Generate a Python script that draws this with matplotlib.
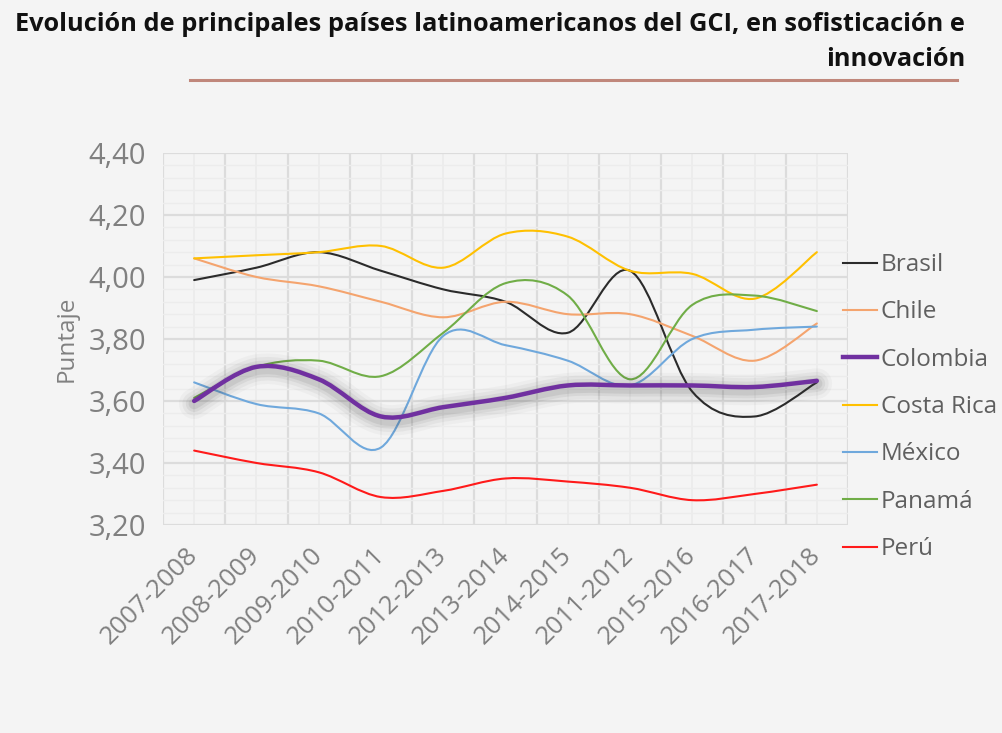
import numpy as np
import matplotlib
matplotlib.use('Agg')
import matplotlib.pyplot as plt
from matplotlib.path import Path
from matplotlib.patches import PathPatch
from matplotlib.lines import Line2D
import matplotlib.patheffects as pe

temporadas = ['2007-2008', '2008-2009', '2009-2010', '2010-2011', '2012-2013',
              '2013-2014', '2014-2015', '2011-2012', '2015-2016', '2016-2017',
              '2017-2018']

brasil = [3.99, 4.03, 4.08, 4.02, 3.96, 3.92, 3.82, 4.02, 3.63, 3.55, 3.66]
chile = [4.06, 4.00, 3.97, 3.92, 3.87, 3.92, 3.88, 3.88, 3.81, 3.73, 3.85]
colombia = [3.60, 3.71, 3.67, 3.55, 3.58, 3.61, 3.65, 3.65, 3.65, 3.645, 3.665]
costa_rica = [4.06, 4.07, 4.08, 4.10, 4.03, 4.14, 4.13, 4.02, 4.01, 3.93, 4.08]
mexico = [3.66, 3.59, 3.56, 3.45, 3.81, 3.78, 3.73, 3.65, 3.80, 3.83, 3.84]
panama = [3.61, 3.71, 3.73, 3.68, 3.82, 3.98, 3.94, 3.67, 3.91, 3.94, 3.89]
peru = [3.44, 3.40, 3.37, 3.29, 3.31, 3.35, 3.34, 3.32, 3.28, 3.30, 3.33]

paises = ['Brasil', 'Chile', 'Colombia', 'Costa Rica', 'México', 'Panamá', 'Perú']
series = [brasil, chile, colombia, costa_rica, mexico, panama, peru]
colores = ['#2b2b2b', '#f4a46e', '#7030a0', '#ffc000', '#6fa8dc', '#70ad47', '#ff1a1a']

y_ticks = [3.20, 3.40, 3.60, 3.80, 4.00, 4.20, 4.40]
y_etiquetas = ['3,20', '3,40', '3,60', '3,80', '4,00', '4,20', '4,40']

fondo = '#f4f4f4'
gris = '#808080'
plt.rcParams['font.family'] = ['Open Sans', 'DejaVu Sans']


def linea_suave(xs, ys):
    # curva suavizada tipo Excel (bezier que pasa por los puntos)
    pts = np.column_stack([xs, ys]).astype(float)
    n = len(pts)
    verts = [pts[0]]
    codes = [Path.MOVETO]
    for i in range(n - 1):
        p0 = pts[i - 1] if i > 0 else pts[i]
        p1 = pts[i]
        p2 = pts[i + 1]
        p3 = pts[i + 2] if i + 2 < n else pts[i + 1]
        verts += [p1 + (p2 - p0) / 6, p2 - (p3 - p1) / 6, p2]
        codes += [Path.CURVE4] * 3
    return Path(verts, codes)


fig = plt.figure(figsize=(10.02, 7.33), dpi=100, facecolor=fondo)
ax = fig.add_axes([0.1627, 0.2838, 0.6836, 0.5075], facecolor=fondo)

x = np.arange(len(temporadas))
handles = []
for nombre, valores, color in zip(paises, series, colores):
    grosor = 3.2 if nombre == 'Colombia' else 1.5
    patch = PathPatch(linea_suave(x, valores), fill=False, edgecolor=color,
                      lw=grosor, capstyle='round', joinstyle='round', zorder=3)
    if nombre == 'Colombia':
        efectos = []
        for w, a in [(22, 0.035), (17, 0.05), (12, 0.07), (8, 0.09)]:
            efectos.append(pe.Stroke(linewidth=w, foreground='#3a3a3a', alpha=a,
                                     offset=(0, -2)))
        efectos.append(pe.Normal())
        patch.set_path_effects(efectos)
        patch.set_zorder(4)
    ax.add_patch(patch)
    handles.append(Line2D([], [], color=color, lw=grosor))

ax.set_xlim(-0.5, len(temporadas) - 0.5)
ax.set_ylim(3.20, 4.40)

ax.set_xticks(x)
ax.set_xticklabels(temporadas, rotation=45, ha='right', va='center',
                   rotation_mode='anchor', fontsize=18.5, color=gris)
ax.set_xticks(np.arange(-0.5, len(temporadas), 1), minor=True)
ax.set_yticks(y_ticks)
ax.set_yticklabels(y_etiquetas, fontsize=21, color=gris)
ax.set_yticks(np.arange(3.20, 4.401, 0.04), minor=True)
ax.tick_params(axis='both', which='both', length=0)
ax.tick_params(axis='x', which='major', pad=19)
ax.tick_params(axis='y', which='major', pad=12)

ax.grid(True, axis='x', which='minor', color='#dcdcdc', lw=1.6)
ax.grid(True, axis='x', which='major', color='#ebebeb', lw=1.2)
ax.grid(True, axis='y', which='major', color='#dcdcdc', lw=1.6)
ax.grid(True, axis='y', which='minor', color='#ececec', lw=1.0)
ax.set_axisbelow(True)
for s in ax.spines.values():
    s.set_visible(False)

ax.set_ylabel('Puntaje', fontsize=17.5, color=gris, labelpad=7)

leg = ax.legend(handles, paises, loc='center left', bbox_to_anchor=(0.993, 0.317),
                frameon=False, fontsize=17.5, handlelength=1.4, handletextpad=0.15,
                labelspacing=0.96, borderpad=0, borderaxespad=0)
for t in leg.get_texts():
    t.set_color('#5f5f5f')

fig.text(0.963, 1 - 31 / 733, 'Evolución de principales países latinoamericanos del GCI, en sofisticación e',
         ha='right', va='baseline', fontsize=18.3, fontweight='bold', color='#111111')
fig.text(0.963, 1 - 66 / 733, 'innovación',
         ha='right', va='baseline', fontsize=18.3, fontweight='bold', color='#111111')
fig.add_artist(Line2D([190 / 1002, 957 / 1002], [1 - 80 / 733, 1 - 80 / 733],
                      color='#c0877b', lw=2.2, transform=fig.transFigure))

fig.savefig('out.png', dpi=100, facecolor=fondo)
